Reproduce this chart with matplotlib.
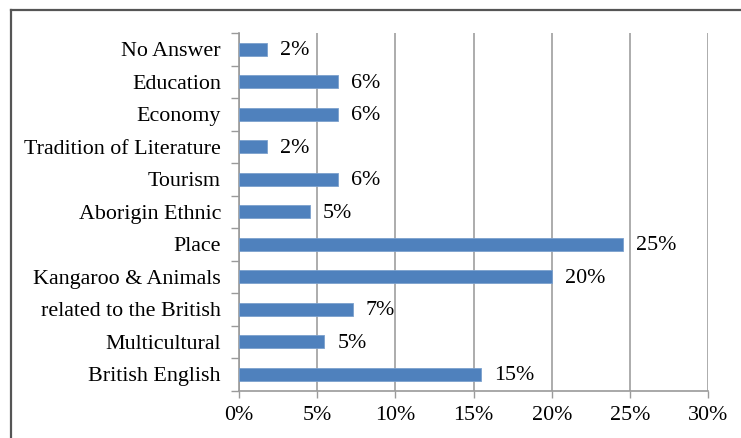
import numpy as np
import matplotlib
matplotlib.use("Agg")
import matplotlib.pyplot as plt
from matplotlib.lines import Line2D

# ── data (top to bottom as in the chart) ──
categories = ["No Answer", "Education", "Economy", "Tradition of Literature",
              "Tourism", "Aborigin Ethnic", "Place", "Kangaroo & Animals",
              "related to the British", "Multicultural", "British English"]
percent = [1.82, 6.36, 6.36, 1.82, 6.36, 4.55, 24.55, 20.0, 7.27, 5.45, 15.45]
value_labels = ["2%", "6%", "6%", "2%", "6%", "5%", "25%", "20%", "7%", "5%", "15%"]
xticks = [0, 5, 10, 15, 20, 25, 30]

plt.rcParams["font.family"] = ["Liberation Serif", "DejaVu Serif"]
FS = 15.8

W, H = 741, 438
fig = plt.figure(figsize=(W / 100, H / 100), dpi=100)
# axes box in pixels: left 239, right 708.3, top 33, bottom 390.7
ax = fig.add_axes([239 / W, 1 - 390.7 / H, (708.3 - 239) / W, (390.7 - 33) / H])

n = len(categories)
y = np.arange(n)
ax.barh(y, percent, height=0.4, color="#4F81BD", edgecolor="#7BA0CD",
        linewidth=0.6, zorder=3)
for yi, v, lab in zip(y, percent, value_labels):
    ax.text(v + 0.83, yi + 0.04, lab, va="center", ha="left", fontsize=FS, zorder=4)

ax.set_ylim(n - 0.5, -0.5)
ax.set_xlim(0, 30)
ax.set_yticks(y)
ax.set_yticklabels(categories, fontsize=FS)
ax.set_yticks(np.arange(n + 1) - 0.5, minor=True)
ax.tick_params(axis="y", which="major", length=0, pad=13)
ax.tick_params(axis="y", which="minor", length=6, width=1, color="#9A9A9A",
               direction="out")
ax.set_xticks(xticks)
ax.set_xticklabels([f"{t}%" for t in xticks], fontsize=FS)
ax.tick_params(axis="x", length=5, width=1, color="#9A9A9A", pad=6)

ax.grid(axis="x", color="#A6A6A6", linewidth=1.3, zorder=0)
ax.set_axisbelow(True)
for s in ["top", "right"]:
    ax.spines[s].set_visible(False)
for s in ["left", "bottom"]:
    ax.spines[s].set_color("#9A9A9A")
    ax.spines[s].set_linewidth(1.2)

# outer frame (only left and top visible in the crop)
fig.add_artist(Line2D([10.5 / W, 10.5 / W], [0, 1 - 9.5 / H],
                      color="#555555", linewidth=1.6))
fig.add_artist(Line2D([10.5 / W, 1], [1 - 9.5 / H, 1 - 9.5 / H],
                      color="#555555", linewidth=1.6))

fig.savefig("out.png", dpi=100)
